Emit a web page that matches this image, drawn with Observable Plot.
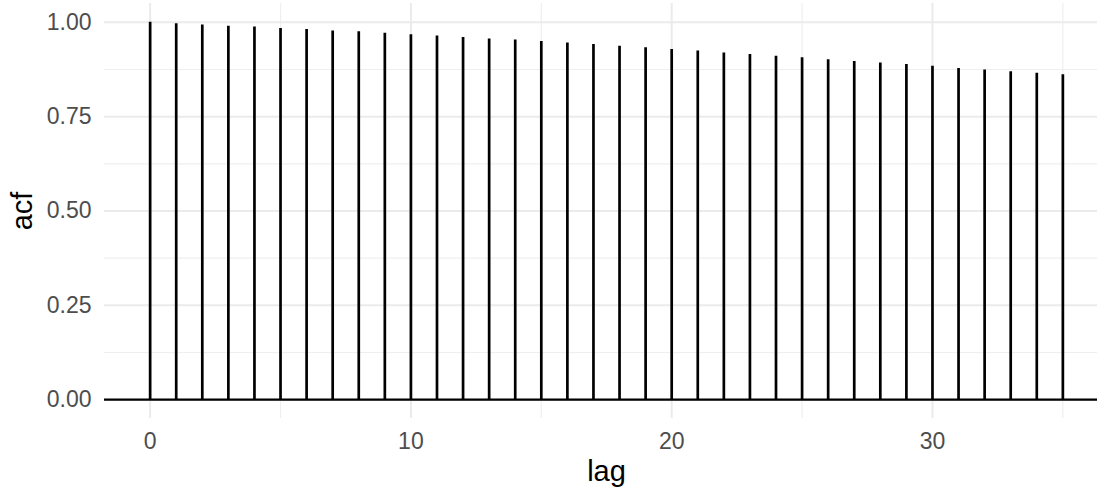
<!DOCTYPE html>
<html>
<head>
<meta charset="utf-8">
<script src="https://cdn.jsdelivr.net/npm/d3@7"></script>
<script src="https://cdn.jsdelivr.net/npm/@observablehq/plot@0.6"></script>
<style>
  html, body { margin: 0; padding: 0; background: #fff; overflow: hidden; }
  #wrap { width: 1097px; height: 488px; overflow: hidden; }
  #wrap svg { max-width: none !important; }
</style>
</head>
<body>
<div id="wrap"></div>
<script>
// lags (x categories)
const lags = [0, 1, 2, 3, 4, 5, 6, 7, 8, 9, 10, 11, 12, 13, 14, 15, 16, 17,
              18, 19, 20, 21, 22, 23, 24, 25, 26, 27, 28, 29, 30, 31, 32, 33, 34, 35];
// autocorrelation values
const acfValues = [1.000, 0.996, 0.993, 0.990, 0.988, 0.984, 0.981, 0.977, 0.975, 0.971,
                   0.967, 0.964, 0.960, 0.956, 0.953, 0.949, 0.945, 0.941, 0.937, 0.933,
                   0.928, 0.924, 0.919, 0.915, 0.910, 0.906, 0.901, 0.896, 0.892, 0.888,
                   0.884, 0.878, 0.874, 0.869, 0.865, 0.861];
// axis ticks
const xMajorTicks = [0, 10, 20, 30];
const xMinorTicks = [5, 15, 25, 35];
const yMajorTicks = [0, 0.25, 0.5, 0.75, 1];
const yMinorTicks = [0.125, 0.375, 0.625, 0.875];
const xTitle = "lag";
const yTitle = "acf";

const data = lags.map((lag, i) => ({lag, acf: acfValues[i]}));

const font = "'Liberation Sans', Arial, Helvetica, sans-serif";

const chart = Plot.plot({
  width: 1108,
  height: 488,
  marginLeft: 104,
  marginRight: 0,
  marginTop: 3,
  marginBottom: 70,
  style: {fontFamily: font, background: "#fff", maxWidth: "none"},
  x: {type: "linear", domain: [-1.75, 36.75]},
  y: {type: "linear", domain: [-0.05, 1.05]},
  marks: [
    Plot.ruleY(yMinorTicks, {stroke: "#EFEFEF", strokeWidth: 1.2}),
    Plot.ruleX(xMinorTicks, {stroke: "#EFEFEF", strokeWidth: 1.2}),
    Plot.ruleY(yMajorTicks, {stroke: "#EBEBEB", strokeWidth: 2}),
    Plot.ruleX(xMajorTicks, {stroke: "#EBEBEB", strokeWidth: 2}),
    Plot.ruleY([0], {stroke: "#000", strokeWidth: 2.2}),
    Plot.ruleX(data, {x: "lag", y1: 0, y2: "acf", stroke: "#000", strokeWidth: 2.7}),
    Plot.axisY({ticks: yMajorTicks, tickFormat: d3.format(".2f"), tickSize: 0, tickPadding: 13,
                fontSize: 23, color: "#4D4D4D", label: null}),
    Plot.axisX({ticks: xMajorTicks, tickFormat: d => String(d), tickSize: 0, tickPadding: 14,
                fontSize: 23, color: "#4D4D4D", label: null}),
    Plot.text([xTitle], {frameAnchor: "bottom", dy: 53, text: d => d, fontSize: 29,
                         fill: "#000", textAnchor: "middle", lineAnchor: "middle"}),
    Plot.text([yTitle], {frameAnchor: "left", dx: -82, rotate: -90, text: d => d, fontSize: 29,
                         fill: "#000", textAnchor: "middle", lineAnchor: "middle"})
  ]
});
document.getElementById("wrap").appendChild(chart);
</script>
</body>
</html>
